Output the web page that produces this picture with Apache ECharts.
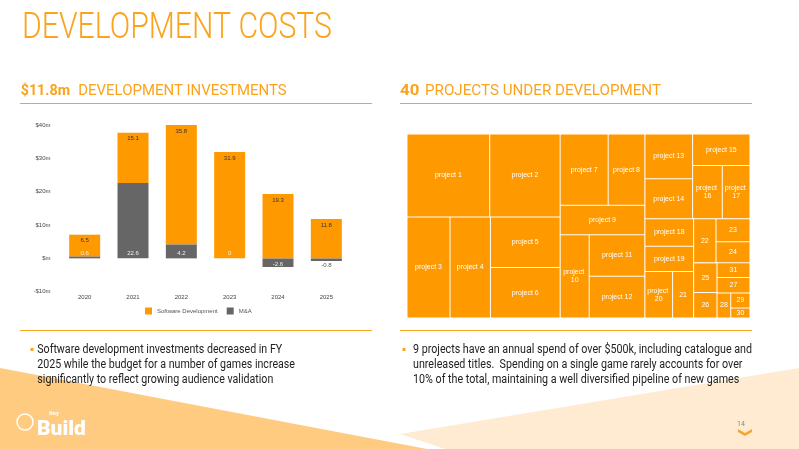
<!DOCTYPE html>
<html>
<head>
<meta charset="utf-8">
<title>Development costs</title>
<script src="https://cdn.jsdelivr.net/npm/echarts@6/dist/echarts.min.js"></script>
<style>
  html, body { margin: 0; padding: 0; background: #fff; }
  #main { width: 799px; height: 449px; }
</style>
</head>
<body>
<div id="main"></div>
<script>
"use strict";
// development investments, $m
var years = ['2020', '2021', '2022', '2023', '2024', '2025'];
var softwareDev = [6.5, 15.1, 35.8, 31.9, 19.3, 11.8];
var mna = [0.6, 22.6, 4.2, 0, -2.6, -0.8];
var yTicks = [-10, 0, 10, 20, 30, 40];

// annual spend per project, $k
var projectNames = ['project 1', 'project 2', 'project 3', 'project 4', 'project 5', 'project 6',
  'project 7', 'project 8', 'project 9', 'project 10', 'project 11', 'project 12', 'project 13',
  'project 14', 'project 15', 'project 16', 'project 17', 'project 18', 'project 19', 'project 20',
  '21', '22', '23', '24', '25', '26', '27', '28', '29', '30', '31'];
var projectSpend = [1396, 1188, 884, 830, 716, 716, 696, 532, 507, 492, 470, 474, 435,
  386, 367, 321, 300, 275, 249, 262, 199, 201, 160, 146, 141, 121, 103, 70, 59, 39, 99];
// nesting of the tiles (project numbers), so the slice layout follows the slide
var projectGroups = [
  [[1, 2], [3, 4, 5, 6]],
  [[7, 8], 9, 10, 11, 12],
  [[[13, 14], 15, 16, 17], [[18, 19, 20, 21], [22, 23, 24], [[25, 26], 31, 27, 28, 29, 30]]]
];

var ORANGE = '#ff9900', GREY = '#666666', BRAND = '#fba31c';

var buildNode = function(item){
  if (Array.isArray(item)) {
    return { name: '', children: item.map(buildNode), itemStyle: { borderWidth: 0, gapWidth: 0 } };
  }
  return {
    name: projectNames[item - 1],
    value: projectSpend[item - 1],
    itemStyle: { color: ORANGE, borderColor: '#fff', borderWidth: 0.5 }
  };
};

// squeeze Roboto to the width of the condensed slide font
var measureCtx = document.createElement('canvas').getContext('2d');
var fitX = function(text, size, weight, width){
  measureCtx.font = weight + ' ' + size + 'px Roboto';
  return width / measureCtx.measureText(text).width;
};
var slideText = function(x, y, text, size, weight, color, width, widest, valign){
  return {
    type: 'text', x: x, y: y, z: 10,
    scaleX: fitX(widest || text, size, weight, width),
    style: {
      text: text, fill: color, fontSize: size, fontWeight: weight, fontFamily: 'Roboto',
      lineHeight: Math.round(size * 1.25), verticalAlign: valign || 'middle'
    }
  };
};
var hline = function(x1, x2, y, w){
  return { type: 'line', z: 5, shape: { x1: x1, y1: y, x2: x2, y2: y }, style: { stroke: BRAND, lineWidth: w } };
};

var leftNote = 'Software development investments decreased in FY\n2025 while the budget for a number of games increase\nsignificantly to reflect growing audience validation';
var rightNote = '9 projects have an annual spend of over $500k, including catalogue and\nunreleased titles.  Spending on a single game rarely accounts for over\n10% of the total, maintaining a well diversified pipeline of new games';

var myChart = echarts.init(document.getElementById('main'), null, { renderer: 'canvas' });
myChart.setOption({
  animation: false,
  textStyle: { fontFamily: 'Liberation Sans' },
  legend: {
    data: ['Software Development', 'M&A'],
    left: 145, top: 307.5, padding: 0,
    icon: 'rect', itemWidth: 7, itemHeight: 7, itemGap: 9,
    textStyle: { fontSize: 6, color: '#555' }
  },
  grid: { left: 60.5, right: 448.5, top: 125, bottom: 157.3 },
  xAxis: {
    type: 'category', data: years,
    axisLine: { show: false, onZero: false }, axisTick: { show: false },
    axisLabel: { fontSize: 6, color: '#444', margin: 3 }
  },
  yAxis: {
    type: 'value',
    min: yTicks[0], max: yTicks[yTicks.length - 1], interval: yTicks[1] - yTicks[0],
    splitLine: { show: false }, axisLine: { show: false }, axisTick: { show: false },
    axisLabel: {
      fontSize: 6, color: '#444', margin: 10,
      formatter: function(v){ return v < 0 ? '-$' + (-v) + 'm' : '$' + (v || '') + 'm'; }
    }
  },
  series: [{
    name: 'M&A', type: 'bar', stack: 'total', barWidth: 31,
    itemStyle: { color: GREY },
    label: { show: true, position: 'insideBottom', distance: 2, fontSize: 6, color: '#eeeeee' },
    data: mna.map(function(v){
      if (v >= 0) return v;
      // a thin negative bar gets its label just under it, in dark text
      return { value: v, label: v > -1
        ? { position: 'bottom', distance: 1, color: '#555', textBorderColor: '#fff', textBorderWidth: 1 }
        : { position: 'insideBottom', distance: 0 } };
    })
  }, {
    name: 'Software Development', type: 'bar', stack: 'total', barWidth: 31,
    itemStyle: { color: ORANGE },
    label: { show: true, position: 'insideTop', distance: 3, fontSize: 6, color: '#333' },
    data: softwareDev
  }, {
    type: 'treemap',
    left: 407, top: 134, width: 343, height: 184,
    roam: false, nodeClick: false, breadcrumb: { show: false },
    squareRatio: 0.001, sort: false, visibleMin: 0,
    itemStyle: { borderWidth: 0, gapWidth: 0, borderColor: '#fff' },
    label: {
      show: true, position: 'inside', fontSize: 7, lineHeight: 8, color: '#fff',
      fontFamily: 'Liberation Sans', overflow: 'break', padding: 0
    },
    data: projectGroups.map(buildNode)
  }],
  graphic: [
    { type: 'polygon', z: 0, shape: { points: [[0, 368], [427, 449], [0, 449]] }, style: { fill: '#fecb80' } },
    { type: 'polygon', z: 0, shape: { points: [[400, 434], [799, 368], [799, 449], [445, 449]] }, style: { fill: '#ffebd1' } },
    slideText(22, 29, 'DEVELOPMENT COSTS', 37, 300, BRAND, 310),
    slideText(20.7, 91, '$11.8m', 14, 'bold', BRAND, 49.3),
    slideText(78.3, 91, 'DEVELOPMENT INVESTMENTS', 14, 'normal', BRAND, 208.4),
    slideText(400, 91, '40', 14, 'bold', BRAND, 19.3),
    slideText(425, 91, 'PROJECTS UNDER DEVELOPMENT', 14, 'normal', BRAND, 236),
    hline(20, 372, 103.5, 1.2),
    hline(400, 752, 103.5, 1.2),
    hline(20, 372, 330.5, 1.2),
    hline(400, 752, 330.5, 1.2),
    { type: 'rect', z: 10, shape: { x: 30.5, y: 348, width: 3, height: 3 }, style: { fill: BRAND } },
    { type: 'rect', z: 10, shape: { x: 402.5, y: 348, width: 3, height: 3 }, style: { fill: BRAND } },
    slideText(37.3, 342.5, leftNote, 12, 'normal', '#222', 257.7,
      '2025 while the budget for a number of games increase', 'top'),
    slideText(413, 342.5, rightNote, 12, 'normal', '#222', 339,
      '9 projects have an annual spend of over $500k, including catalogue and', 'top'),
    // logo
    { type: 'circle', z: 10, shape: { cx: 25, cy: 422, r: 8 }, style: { fill: 'none', stroke: '#fff', lineWidth: 1.5 } },
    { type: 'text', z: 10, x: 49, y: 413, style: { text: 'tiny', fill: '#fff', fontSize: 6, fontWeight: 'bold', fontFamily: 'Roboto', verticalAlign: 'middle' } },
    { type: 'text', z: 10, x: 37, y: 430, style: { text: 'Build', fill: '#fff', fontSize: 21, fontWeight: 900, fontFamily: 'Roboto', verticalAlign: 'middle' } },
    // page number
    { type: 'text', z: 10, x: 741, y: 424, style: { text: '14', fill: '#888', fontSize: 7, fontFamily: 'Roboto', align: 'center', verticalAlign: 'middle' } },
    { type: 'polygon', z: 10, shape: { points: [[738, 429], [745, 433], [752, 429], [752, 432], [745, 436], [738, 432]] }, style: { fill: '#f7a535' } }
  ]
});
</script>
</body>
</html>
